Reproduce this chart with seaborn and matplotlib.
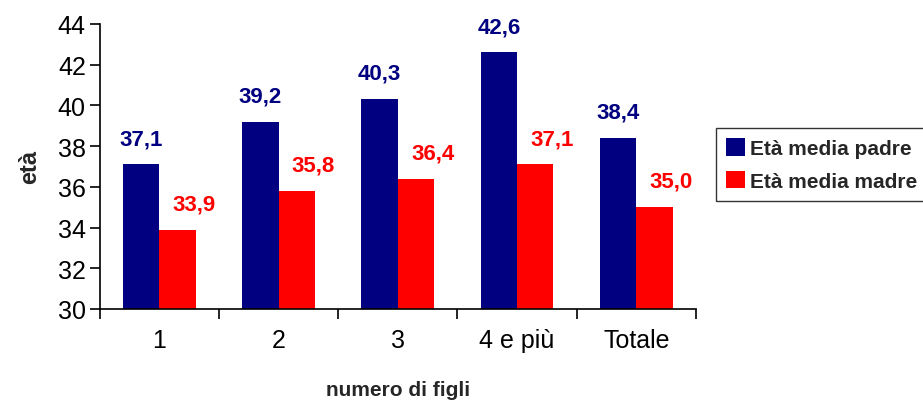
import matplotlib
matplotlib.use("Agg")
import matplotlib.pyplot as plt
import seaborn as sns
import pandas as pd
import numpy as np

categories = ["1", "2", "3", "4 e più", "Totale"]
padre = [37.1, 39.2, 40.3, 42.6, 38.4]
madre = [33.9, 35.8, 36.4, 37.1, 35.0]
series_names = ["Età media padre", "Età media madre"]
colors = ["#000080", "#FF0000"]

df = pd.DataFrame({
    "cat": categories * 2,
    "val": padre + madre,
    "serie": [series_names[0]] * 5 + [series_names[1]] * 5,
})

sns.set_theme(style="white")
plt.rcParams["font.family"] = ["Liberation Sans", "DejaVu Sans"]

fig = plt.figure(figsize=(9.23, 4.02), dpi=100)
ax = fig.add_axes([0.108, 0.229, 0.646, 0.709])

sns.barplot(data=df, x="cat", y="val", hue="serie", palette=colors,
            width=0.61, saturation=1, ax=ax, legend=True, linewidth=0)

ax.set_ylim(30, 44)
ax.set_yticks(np.arange(30, 45, 2))
ax.set_xlim(-0.5, 4.5)

label_dx = [0, 12]
for container, col, dx in zip(ax.containers, colors, label_dx):
    for bar in container:
        h = bar.get_height()
        ax.annotate(f"{h:.1f}".replace(".", ","),
                    (bar.get_x() + bar.get_width() / 2, h),
                    xytext=(dx, 11), textcoords="offset points",
                    ha="center", va="bottom", color=col,
                    fontsize=16, fontweight="bold")

for s in ["top", "right"]:
    ax.spines[s].set_visible(False)
for s in ["left", "bottom"]:
    ax.spines[s].set_color("black")
    ax.spines[s].set_linewidth(1.2)

ax.tick_params(axis="y", which="major", direction="out", length=7, width=1.2,
               color="black", labelsize=18, labelcolor="black", left=True, pad=3)
ax.tick_params(axis="x", which="major", length=0, labelsize=18, labelcolor="black", pad=14)
ax.set_xticks(np.arange(-0.5, 5.0, 1.0), minor=True)
ax.tick_params(axis="x", which="minor", direction="out", length=7, width=1.2,
               color="black", bottom=True)

ax.set_ylabel("età", fontsize=17, fontweight="bold", labelpad=12)
ax.set_xlabel("numero di figli", fontsize=15, fontweight="bold", labelpad=20)

leg = ax.legend(loc="upper left", bbox_to_anchor=(716 / 923, 1 - 129 / 402),
                bbox_transform=fig.transFigure, frameon=True, fancybox=False,
                borderaxespad=0,
                handlelength=0.9, handleheight=0.9, handletextpad=0.25,
                prop={"size": 15, "weight": "bold"}, borderpad=0.5, labelspacing=0.6)
leg.get_frame().set_edgecolor("black")
leg.get_frame().set_linewidth(1.0)
leg.set_title(None)

fig.savefig("out.png", dpi=100)
